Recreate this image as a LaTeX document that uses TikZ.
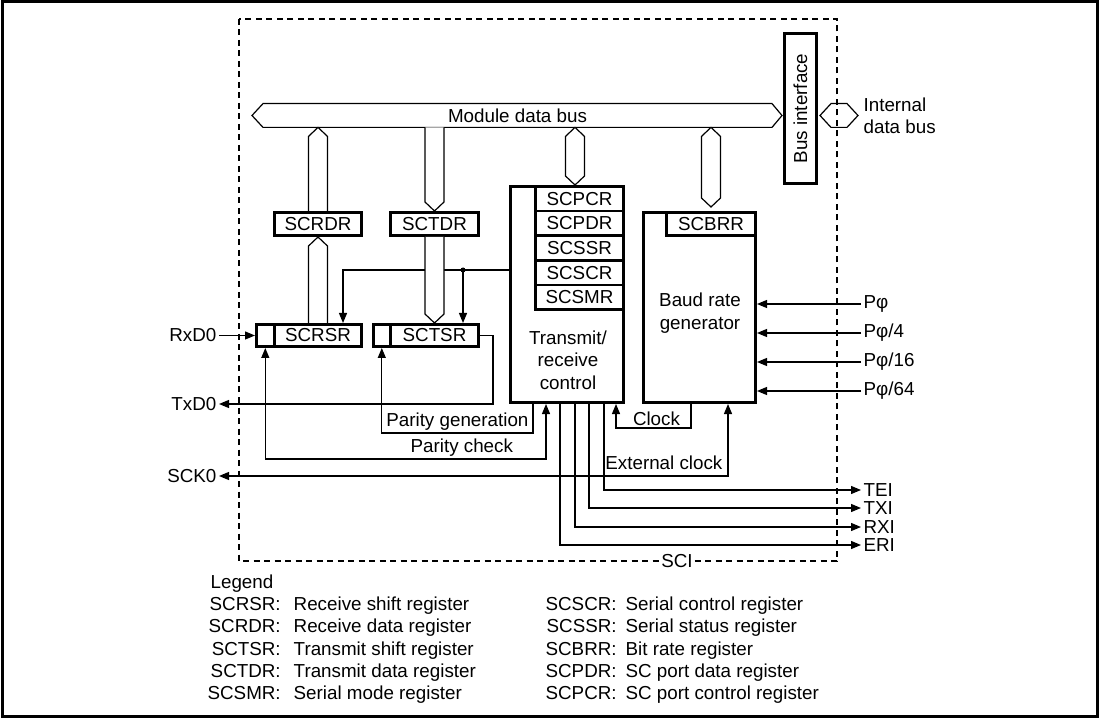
\documentclass[tikz,border=0pt]{standalone}
\usepackage{fontspec}
\setmainfont{Liberation Sans}
\usetikzlibrary{positioning, arrows.meta, calc}

\begin{document}
\begin{tikzpicture}[
			x=1pt, y=-1pt, line width=1.2pt, inner sep=2pt,
			font=\fontsize{18.8}{22.3}\selectfont,
			>={Triangle[length=10pt, width=8pt]},
			box/.style={draw, line width=2.6pt},
			reg/.style={box, minimum width=88.4pt, minimum height=24.7pt},
			col/.style={draw, fill=white}
			]
			\useasboundingbox (0,0) rectangle (1101,719);
			\draw[line width=3pt] (2.5,2) rectangle (1097.5,716.5);
			\draw[dash pattern=on 6pt off 4.5pt, line width=1.3pt] (239,19) rectangle (837,561);
			\node[fill=white, inner sep=1pt] (sci) at (677,561) {SCI};

			\node[outer sep=0pt, minimum width=509pt, minimum height=23.8pt] (bus) at (517.5,115.5) {Module data bus};
			\draw (bus.north west) -- (bus.north east) -- ($(bus.east)+(10,0)$) -- (bus.south east) -- (bus.south west) -- ($(bus.west)+(-11,0)$) -- cycle;
			\node[box, rotate=90, minimum width=150.4pt, minimum height=32.4pt] (bif) at (800.5,108.5) {Bus interface};
			\node[outer sep=0pt, minimum width=16pt, minimum height=23.8pt] (ibus) at (839,115.5) {};
			\draw (ibus.north west) -- (ibus.north east) -- ($(ibus.east)+(11,0)$) -- (ibus.south east) -- (ibus.south west) -- ($(ibus.west)+(-11,0)$) -- cycle;
			\node[anchor=west, align=left] (ibtxt) at (861,115.5) {Internal\\data bus};

			\node[box, minimum width=87.4pt, minimum height=23.4pt] (rdr) at (318,224) {SCRDR};
			\node[box, minimum width=88.4pt, minimum height=23.4pt] (tdr) at (434.5,224) {SCTDR};
			\node[box, minimum width=87.4pt, minimum height=22.4pt] (rsr) at (318,335.5) {SCRSR};
			\node[box, minimum width=18pt, minimum height=22.4pt] (rsrc) [left=-2.6pt of rsr] {};
			\node[box, minimum width=88.4pt, minimum height=22.4pt] (tsr) at (434.5,335.5) {SCTSR};
			\node[box, minimum width=17pt, minimum height=22.4pt] (tsrc) [left=-2.6pt of tsr] {};

			\node[box, minimum width=113.4pt, minimum height=216.4pt] (trc) at (567,294.5) {};
			\node[align=center] (trctxt) at (568,360) {Transmit/\\receive\\control};
			\node[reg, anchor=north east] (pcr) at (trc.north east) {SCPCR};
			\node[reg] (pdr) [below=-2.6pt of pcr] {SCPDR};
			\node[reg] (ssr) [below=-2.6pt of pdr] {SCSSR};
			\node[reg] (scr) [below=-2.6pt of ssr] {SCSCR};
			\node[reg] (smr) [below=-2.6pt of scr] {SCSMR};

			\node[box, minimum width=112.4pt, minimum height=190.4pt] (brg) at (699.5,307.5) {};
			\node[align=center] (brgtxt) at (700,313) {Baud rate\\generator};
			\node[box, anchor=north east, minimum width=89.4pt, minimum height=23.4pt] (brr) at (brg.north east) {SCBRR};

			\coordinate (jn) at (463,270);
			\coordinate (c3) at (575,0);
			\coordinate (c4) at ($(brr.north)+(0,-4)$);
			\draw[->] (trc.west |- jn) -| ($(rsr.north east)+(-20,0)$);
			\draw[->] (jn) -- (jn |- tsr.north);
			\fill (jn) circle (2.5);

			\draw[col] ($(rdr.north)+(-9.5,0)$) -- ($(bus.south -| rdr.north)+(-9.5,9)$) -- (bus.south -| rdr.north) -- ($(bus.south -| rdr.north)+(9.5,9)$) -- ($(rdr.north)+(9.5,0)$);
			\draw[col] ($(bus.south -| tdr.north)+(-9.5,0)$) -- ($(tdr.north)+(-9.5,-9)$) -- (tdr.north) -- ($(tdr.north)+(9.5,-9)$) -- ($(bus.south -| tdr.north)+(9.5,0)$);
			\draw[col] ($(rsr.north)+(-9.5,0)$) -- ($(rdr.south)+(-9.5,9)$) -- (rdr.south) -- ($(rdr.south)+(9.5,9)$) -- ($(rsr.north)+(9.5,0)$);
			\draw[col] ($(tdr.south)+(-9.5,0)$) -- ($(tsr.north)+(-9.5,-9)$) -- (tsr.north) -- ($(tsr.north)+(9.5,-9)$) -- ($(tdr.south)+(9.5,0)$);
			\draw[col] (bus.south -| c3) -- ($(bus.south -| c3)+(9.5,9)$) -- ($(trc.north -| c3)+(9.5,-9)$) -- (trc.north -| c3) -- ($(trc.north -| c3)+(-9.5,-9)$) -- ($(bus.south -| c3)+(-9.5,9)$) -- cycle;
			\draw[col] (bus.south -| c4) -- ($(bus.south -| c4)+(9.5,9)$) -- ($(c4)+(9.5,-9)$) -- (c4) -- ($(c4)+(-9.5,-9)$) -- ($(bus.south -| c4)+(-9.5,9)$) -- cycle;

			\node[anchor=east] (rxd) at (219,335.5) {RxD0};
			\node[anchor=east] (txd) at (219,404) {TxD0};
			\node[anchor=east] (sck) at (219,476) {SCK0};
			\draw[->] (rxd) -- (rsrc);
			\draw[->] (tsr.east) -- ++(13,0) |- (txd);
			\draw[->] ($(trc.south west)+(24,0)$) -- ++(0,29) -| node[pos=0.25, above] {Parity generation} (tsrc.south);
			\draw[<->] (rsrc.south) -- ++(0,111) -| node[pos=0.35, above] {Parity check} ($(trc.south west)+(37,0)$);
			\draw[->] ($(brg.south west)+(49,0)$) -- ++(0,24) -| node[pos=0.23, above] {Clock} ($(trc.south west)+(107,0)$);
			\draw[<->] (sck) -| node[pos=0.5, above left, xshift=-3pt, yshift=4pt] {External clock} ($(brg.south west)+(86,0)$);

			\node[anchor=west] (p1) at (861,304) {Pφ};
			\node[anchor=west] (p4) at (861,333) {Pφ/4};
			\node[anchor=west] (p16) at (861,362) {Pφ/16};
			\node[anchor=west] (p64) at (861,391) {Pφ/64};
			\path[->]
			(p1) edge (p1 -| brg.east)
			(p4) edge (p4 -| brg.east)
			(p16) edge (p16 -| brg.east)
			(p64) edge (p64 -| brg.east);

			\node[anchor=west] (tei) at (861,490) {TEI};
			\node[anchor=west] (txi) at (861,508) {TXI};
			\node[anchor=west] (rxi) at (861,527) {RXI};
			\node[anchor=west] (eri) at (861,545) {ERI};
			\draw[->] ($(trc.south west)+(95,0)$) |- (tei);
			\draw[->] ($(trc.south west)+(80,0)$) |- (txi);
			\draw[->] ($(trc.south west)+(66,0)$) |- (rxi);
			\draw[->] ($(trc.south west)+(51,0)$) |- (eri);

			\node[anchor=base west, inner sep=0pt] (leg) at (210,588.5) {Legend};
			\node[anchor=base west, inner sep=0pt] (legl) at (207,610.5) {\begin{tabular}[t]{@{}r@{\hspace{13pt}}l@{}}
				SCRSR: & Receive shift register\\
				SCRDR: & Receive data register\\
				SCTSR: & Transmit shift register\\
				SCTDR: & Transmit data register\\
				SCSMR: & Serial mode register
			\end{tabular}};
			\node[anchor=base west, inner sep=0pt] (legr) at (545,610.5) {\begin{tabular}[t]{@{}r@{\hspace{9pt}}l@{}}
				SCSCR: & Serial control register\\
				SCSSR: & Serial status register\\
				SCBRR: & Bit rate register\\
				SCPDR: & SC port data register\\
				SCPCR: & SC port control register
			\end{tabular}};
		\end{tikzpicture}
\end{document}
